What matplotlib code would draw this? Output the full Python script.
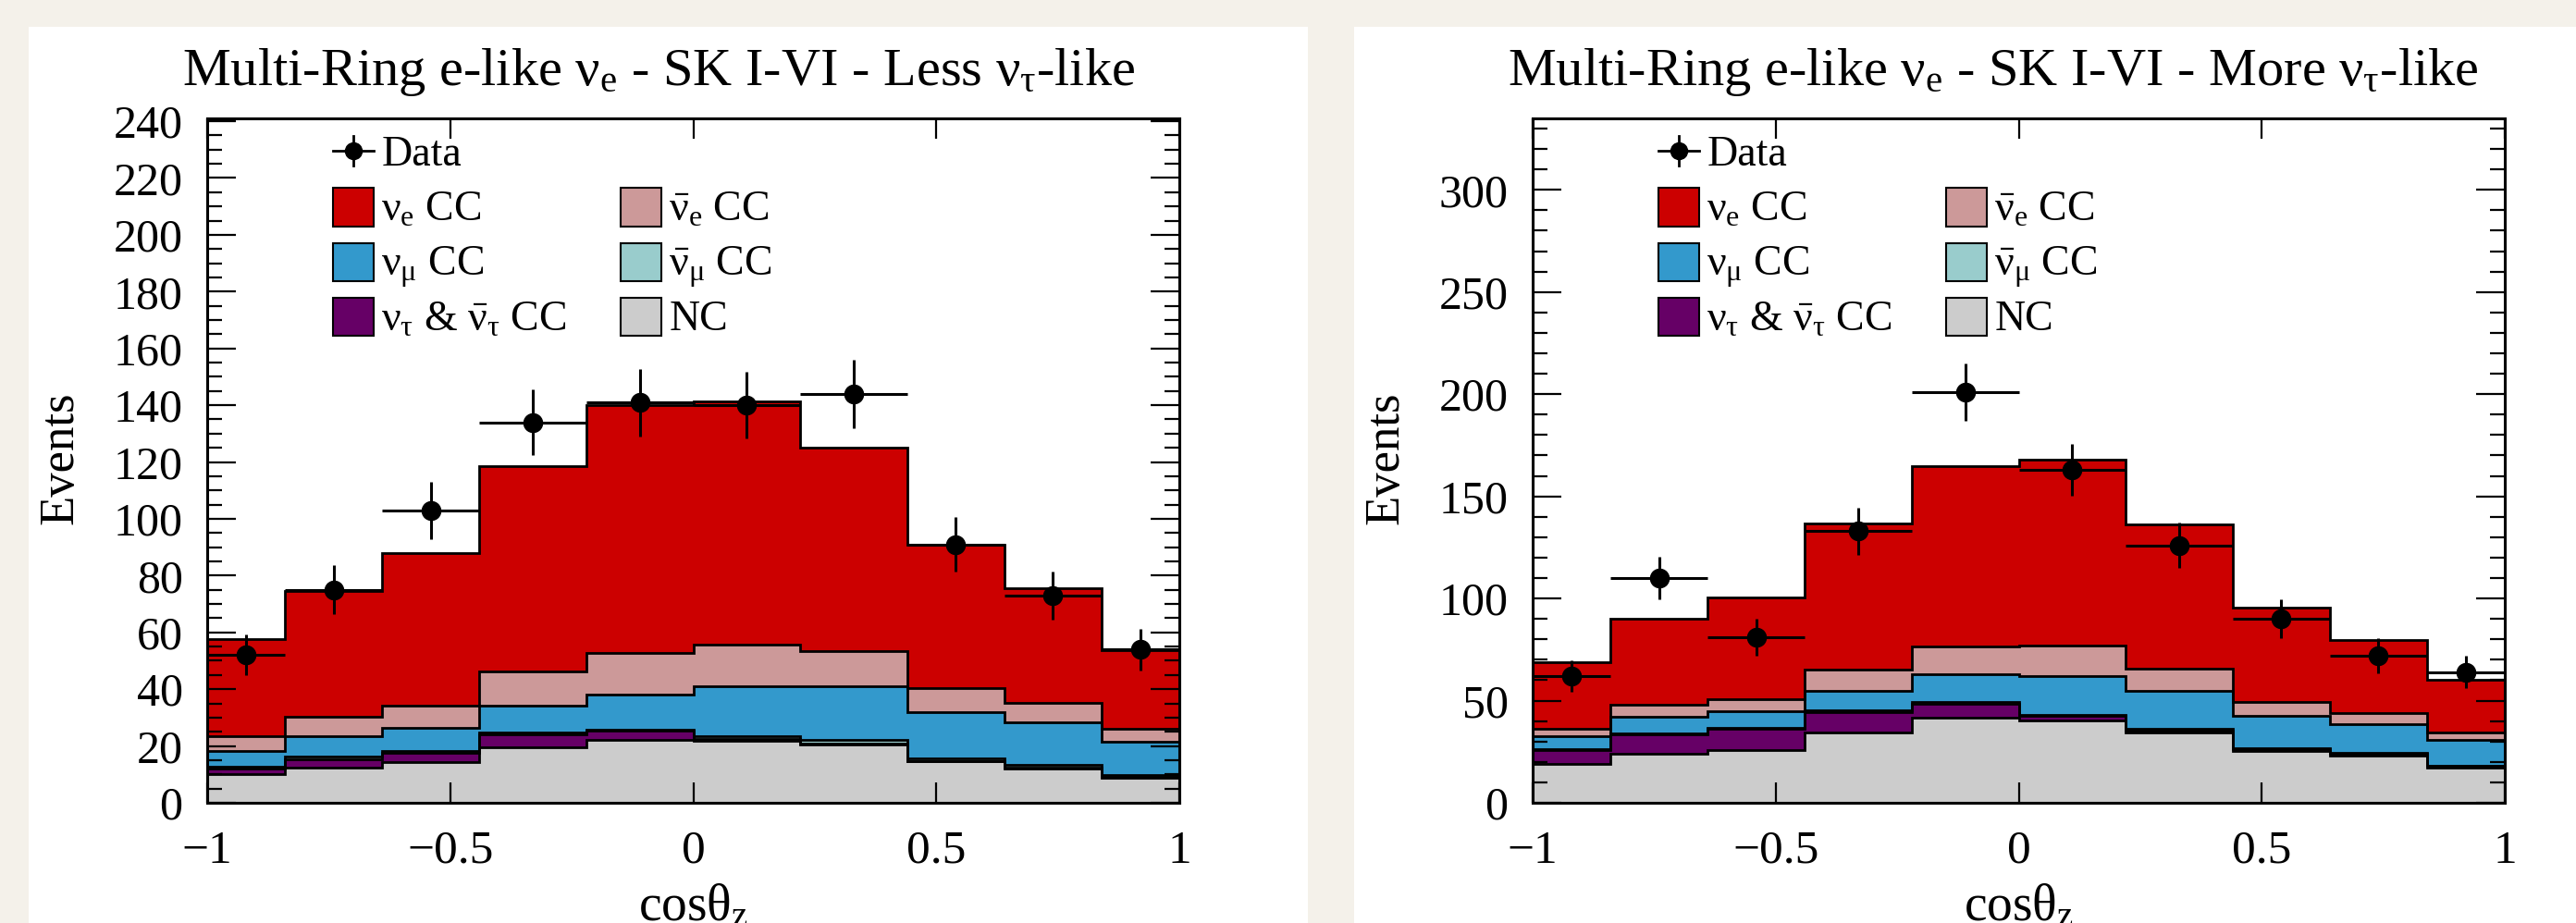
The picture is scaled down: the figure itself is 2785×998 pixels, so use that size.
import numpy as np
import matplotlib
matplotlib.use('Agg')
import matplotlib.pyplot as plt
from matplotlib.patches import Rectangle
from matplotlib.ticker import MultipleLocator, FuncFormatter

plt.rcParams['font.family'] = ['Liberation Serif', 'DejaVu Serif']
plt.rcParams['mathtext.fontset'] = 'custom'
plt.rcParams['mathtext.rm'] = 'Liberation Serif'
plt.rcParams['mathtext.it'] = 'Liberation Serif'
plt.rcParams['mathtext.bf'] = 'Liberation Serif:bold'

# cos(theta_z) bin edges
edges = [-1.0, -0.84, -0.64, -0.44, -0.22, 0.0, 0.22, 0.44, 0.64, 0.84, 1.0]

# ---- Less nu_tau-like ----
less_data = [52, 75, 103, 134, 141, 140, 144, 91, 73, 54]
less_err = [7.2, 8.7, 10.1, 11.6, 11.9, 11.8, 12.0, 9.5, 8.5, 7.3]
less_nc = [10.0, 12.5, 14.4, 19.7, 22.1, 21.7, 20.5, 14.5, 12.0, 8.9]
less_nutau = [1.9, 2.8, 3.3, 4.5, 3.2, 0.8, 0.4, 0.3, 0.3, 0.3]
less_numubar = [0.7, 0.9, 0.7, 0.5, 0.5, 1.0, 1.3, 0.9, 0.9, 0.6]
less_numu = [5.8, 7.4, 8.0, 9.5, 12.4, 17.6, 18.7, 16.2, 15.0, 11.6]
less_nuebar = [5.2, 6.7, 7.8, 12.1, 14.4, 14.5, 12.5, 8.4, 6.9, 4.8]
less_nue = [34.0, 44.4, 53.8, 72.1, 87.6, 85.6, 71.6, 50.7, 40.3, 27.6]

# ---- More nu_tau-like ----
more_data = [62, 110, 81, 133, 201, 163, 126, 90, 72, 64]
more_err = [7.9, 10.5, 9.0, 11.5, 14.2, 12.8, 11.2, 9.5, 8.5, 8.0]
more_nc = [19.1, 24.1, 25.9, 34.2, 41.8, 40.2, 34.5, 25.4, 22.9, 17.2]
more_nutau = [6.5, 9.3, 10.3, 10.3, 6.8, 2.3, 1.0, 0.8, 1.0, 0.7]
more_numubar = [0.6, 0.6, 0.6, 0.6, 0.6, 0.6, 0.5, 0.5, 0.5, 0.4]
more_numu = [6.2, 8.2, 8.0, 9.8, 13.6, 19.1, 18.9, 15.9, 14.3, 12.5]
more_nuebar = [3.8, 5.6, 6.0, 10.3, 13.6, 14.8, 10.6, 6.8, 5.4, 3.6]
more_nue = [32.5, 42.5, 49.6, 71.5, 88.3, 90.8, 70.7, 45.9, 35.4, 25.6]

colors = ['#cccccc', '#660066', '#99cccc', '#3399cc', '#cc9999', '#cc0000']
labels = ['NC', r'$\nu_{\tau}$ & $\bar{\nu}_{\tau}$ CC', r'$\bar{\nu}_{\mu}$ CC',
          r'$\nu_{\mu}$ CC', r'$\bar{\nu}_{e}$ CC', r'$\nu_{e}$ CC']

W, H = 2785, 998
fig = plt.figure(figsize=(W / 100, H / 100), dpi=100)
fig.patch.set_facecolor('#f4f1ea')

# white pads
fig.add_artist(Rectangle((31 / W, 0), (1414 - 31) / W, (H - 29) / H,
                         transform=fig.transFigure, facecolor='white', edgecolor='none', zorder=0))
fig.add_artist(Rectangle((1464 / W, 0), (W - 1464) / W, (H - 29) / H,
                         transform=fig.transFigure, facecolor='white', edgecolor='none', zorder=0))


def draw_panel(left_px, comps, data, err, ymax, major, minor, title, title_cx):
    ax = fig.add_axes([left_px / W, 1 - 868 / H, 1051 / W, 740 / H])
    ax.set_facecolor('white')
    e = np.array(edges)
    levels = np.cumsum(np.array(comps), axis=0)
    for i in reversed(range(len(comps))):
        ax.stairs(levels[i], e, baseline=0, fill=True, facecolor=colors[i],
                  edgecolor='none', zorder=1)
    for i in range(len(comps)):
        ax.stairs(levels[i], e, baseline=0, fill=False, color='k', lw=2, zorder=1.5)

    xc = (e[:-1] + e[1:]) / 2
    xw = (e[1:] - e[:-1]) / 2
    ax.errorbar(xc, data, xerr=xw, yerr=err, fmt='o', color='k', ms=14.5,
                elinewidth=2.2, capsize=0, zorder=3)

    ax.set_xlim(-1, 1)
    ax.set_ylim(0, ymax)
    ax.xaxis.set_major_locator(MultipleLocator(0.5))
    ax.yaxis.set_major_locator(MultipleLocator(major))
    ax.yaxis.set_minor_locator(MultipleLocator(minor))
    ax.tick_params(axis='y', which='major', direction='in', length=22, width=1.6,
                   left=True, right=True, labelsize=36, pad=19)
    ax.tick_params(axis='y', which='minor', direction='in', length=11.5, width=1.6,
                   left=True, right=True)
    ax.tick_params(axis='x', which='major', direction='in', length=16, width=1.6,
                   top=True, bottom=True, labelsize=37, pad=21)
    ax.tick_params(axis='x', which='minor', bottom=False, top=False)
    ax.xaxis.set_major_formatter(FuncFormatter(
        lambda v, p: ('%g' % v).replace('-', '\u2212')))
    for s in ax.spines.values():
        s.set_linewidth(2.2)
        s.set_zorder(5)

    # legend
    bw, bh = 0.042, 0.056
    yd = 0.953
    ax.plot([0.129, 0.171], [yd, yd], transform=ax.transAxes, color='k', lw=2, zorder=6)
    ax.plot([0.150, 0.150], [yd - 0.022, yd + 0.022], transform=ax.transAxes,
            color='k', lw=2, zorder=6)
    ax.plot([0.150], [yd], 'o', color='k', ms=13, transform=ax.transAxes, zorder=6)
    ax.text(0.179, yd - 0.022, 'Data', transform=ax.transAxes, fontsize=33,
            va='baseline', ha='left', zorder=6)
    order = [(5, 0, 0), (4, 1, 0), (3, 0, 1), (2, 1, 1), (1, 0, 2), (0, 1, 2)]
    rows = [0.870, 0.790, 0.710]
    cols = [0.129, 0.425]
    for idx, c, r in order:
        x0, yc = cols[c], rows[r]
        ax.add_patch(Rectangle((x0, yc - bh / 2), bw, bh, transform=ax.transAxes,
                               facecolor=colors[idx], edgecolor='k', lw=1.5, zorder=6))
        ax.text(x0 + bw + 0.008, yc - 0.02, labels[idx], transform=ax.transAxes,
                fontsize=33, va='baseline', ha='left', zorder=6)

    fig.text(title_cx / W, 1 - 92 / H, title, ha='center', va='baseline', fontsize=42)
    fig.text((left_px - 159) / W, 1 - 495 / H, 'Events', rotation=90,
             ha='center', va='center', fontsize=38)
    fig.text((left_px + 525) / W, 1 - 995 / H, r'cos$\theta_{z}$', ha='center',
             va='baseline', fontsize=40)
    return ax


less_comps = [less_nc, less_nutau, less_numubar, less_numu, less_nuebar, less_nue]
more_comps = [more_nc, more_nutau, more_numubar, more_numu, more_nuebar, more_nue]

draw_panel(224, less_comps, less_data, less_err, 241, 20, 5,
           r'Multi-Ring e-like $\nu_{e}$ - SK I-VI - Less $\nu_{\tau}$-like', 712)
draw_panel(1657, more_comps, more_data, more_err, 335, 50, 10,
           r'Multi-Ring e-like $\nu_{e}$ - SK I-VI - More $\nu_{\tau}$-like', 2155)

fig.savefig('out.png', dpi=100, facecolor=fig.get_facecolor())
